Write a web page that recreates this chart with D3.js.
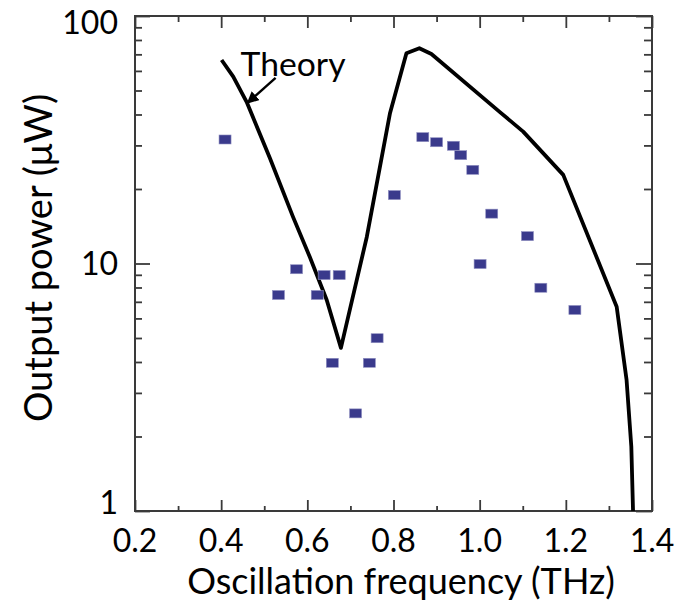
<!DOCTYPE html>
<html>
<head>
<meta charset="utf-8">
<script src="https://cdn.jsdelivr.net/npm/d3@7"></script>
<style>
  body { margin: 0; background: #fff; }
  text { font-family: Lato, "Open Sans", sans-serif; fill: #000; }
</style>
</head>
<body>
<div id="chart"></div>
<script>
var width = 684;
var height = 606;
var margin = {left: 135, right: 32, top: 16, bottom: 95};

// theory curve
let theoryFreq  = [0.401, 0.428, 0.459, 0.513, 0.567, 0.606, 0.645, 0.678, 0.738, 0.792, 0.830, 0.860, 0.888, 1.047, 1.101, 1.194, 1.318, 1.341, 1.352, 1.356];
let theoryPower = [66.4, 56.9, 45.0, 26.7, 15.4, 10.6, 7.12, 4.56, 12.8, 40.6, 70.7, 74.1, 70.2, 40.9, 34.1, 22.8, 6.69, 3.38, 1.82, 1.0];

// measured points
let measFreq  = [0.409, 0.533, 0.575, 0.623, 0.639, 0.674, 0.658, 0.712, 0.744, 0.762, 0.802, 0.868, 0.900, 0.939, 0.956, 0.984, 1.001, 1.028, 1.111, 1.142, 1.221];
let measPower = [31.7, 7.46, 9.48, 7.46, 8.98, 8.98, 3.97, 2.48, 3.97, 4.99, 18.9, 32.4, 30.9, 29.9, 27.4, 23.9, 9.95, 15.9, 12.9, 7.98, 6.49];

let xMajor = [0.2, 0.4, 0.6, 0.8, 1.0, 1.2, 1.4];
let xMinor = [0.3, 0.5, 0.7, 0.9, 1.1, 1.3];
let yMajor = [1, 10, 100];
let yMinor = [2, 3, 4, 5, 6, 7, 8, 9, 20, 30, 40, 50, 60, 70, 80, 90];

let xLabel = "Oscillation frequency (THz)";
let yLabel = "Output power (\u03bcW)";

var svg = d3.select("#chart").append("svg")
    .attr("width", width).attr("height", height);

let x = d3.scaleLinear().domain([0.2, 1.4]).range([margin.left, width - margin.right]);
let y = d3.scaleLog().domain([1, 100]).range([height - margin.bottom, margin.top]);

let theory = theoryFreq.map((f, i) => [f, theoryPower[i]]);
let meas = measFreq.map((f, i) => [f, measPower[i]]);

svg.append("clipPath").attr("id", "plotclip")
  .append("rect")
    .attr("x", x(0.2)).attr("y", y(100))
    .attr("width", x(1.4) - x(0.2)).attr("height", y(1) - y(100));

// frame ticks, all pointing inward
let axisColor = "#3a3a3a";
let axes = svg.append("g").attr("stroke", axisColor).attr("stroke-width", 1.8);

function ticks(axis, pos, vals, size) {
    axes.append("g").attr("transform", pos)
        .call(axis.tickValues(vals).tickSize(size).tickFormat(""))
        .call(g => g.select(".domain").remove());
}
ticks(d3.axisBottom(x), `translate(0,${y(1)})`, xMajor, -11);
ticks(d3.axisBottom(x), `translate(0,${y(1)})`, xMinor, -5);
ticks(d3.axisTop(x), `translate(0,${y(100)})`, xMajor, -12);
ticks(d3.axisTop(x), `translate(0,${y(100)})`, xMinor, -6);
ticks(d3.axisLeft(y), `translate(${x(0.2)},0)`, yMajor, -15);
ticks(d3.axisLeft(y), `translate(${x(0.2)},0)`, yMinor, -7);
ticks(d3.axisRight(y), `translate(${x(1.4)},0)`, yMajor, -16);
ticks(d3.axisRight(y), `translate(${x(1.4)},0)`, yMinor, -8);
axes.selectAll("line").attr("stroke", axisColor);

svg.append("rect")
    .attr("x", x(0.2)).attr("y", y(100))
    .attr("width", x(1.4) - x(0.2)).attr("height", y(1) - y(100))
    .attr("fill", "none").attr("stroke", axisColor).attr("stroke-width", 2);

// tick labels
svg.append("g").selectAll("text").data(xMajor).join("text")
    .attr("x", d => x(d)).attr("y", y(1) + 41)
    .attr("text-anchor", "middle")
    .attr("font-size", 32)
    .text(d => d3.format(".1f")(d));

// end labels pulled inside a little, as in the figure
svg.append("g").selectAll("text").data(yMajor).join("text")
    .attr("x", x(0.2) - 17)
    .attr("y", d => Math.min(Math.max(y(d), 22), 502))
    .attr("dy", "0.36em")
    .attr("text-anchor", "end")
    .attr("font-size", 32)
    .text(d => d);

// axis titles, sized so they span the same width as in the figure
let xt = svg.append("text")
    .attr("x", 401).attr("y", 594)
    .attr("text-anchor", "middle")
    .attr("font-size", 34)
    .text(xLabel);
let xw = xt.node().getComputedTextLength();
xt.attr("font-size", Math.min(36, 34 * 458 / xw));

let yt = svg.append("text")
    .attr("transform", `translate(52,258) rotate(-90)`)
    .attr("text-anchor", "middle")
    .attr("font-size", 34)
    .text(yLabel);
let yw = yt.node().getComputedTextLength();
yt.attr("font-size", Math.min(38, 34 * 339 / yw));

// data
let plot = svg.append("g").attr("clip-path", "url(#plotclip)");

plot.append("path").datum(theory)
    .attr("d", d3.line().x(d => x(d[0])).y(d => y(d[1])))
    .attr("fill", "none")
    .attr("stroke", "#000")
    .attr("stroke-width", 3.8)
    .attr("stroke-linejoin", "round");

plot.selectAll(".meas").data(meas).join("rect")
    .attr("class", "meas")
    .attr("x", d => x(d[0]) - 6)
    .attr("y", d => y(d[1]) - 4.5)
    .attr("width", 12).attr("height", 9)
    .attr("fill", "#3a3a8c")
    .attr("stroke", "#8f8fc0").attr("stroke-width", 0.6);

// "Theory" label with arrow pointing at the curve
let tip = [x(theoryFreq[2]) + 1, y(theoryPower[2]) + 1];
svg.append("defs").append("marker")
    .attr("id", "head").attr("viewBox", "0 0 10 10")
    .attr("refX", 9).attr("refY", 5)
    .attr("markerWidth", 5).attr("markerHeight", 5)
    .attr("orient", "auto")
  .append("path").attr("d", "M0,0L10,5L0,10Z").attr("fill", "#000");

svg.append("line")
    .attr("x1", tip[0] + 28).attr("y1", tip[1] - 25)
    .attr("x2", tip[0]).attr("y2", tip[1])
    .attr("stroke", "#000").attr("stroke-width", 2.4)
    .attr("marker-end", "url(#head)");

let th = svg.append("text")
    .attr("x", tip[0] - 7).attr("y", tip[1] - 27)
    .attr("font-size", 31)
    .text("Theory");
let tw = th.node().getComputedTextLength();
th.attr("font-size", Math.min(34, 31 * 105 / tw));
</script>
</body>
</html>
